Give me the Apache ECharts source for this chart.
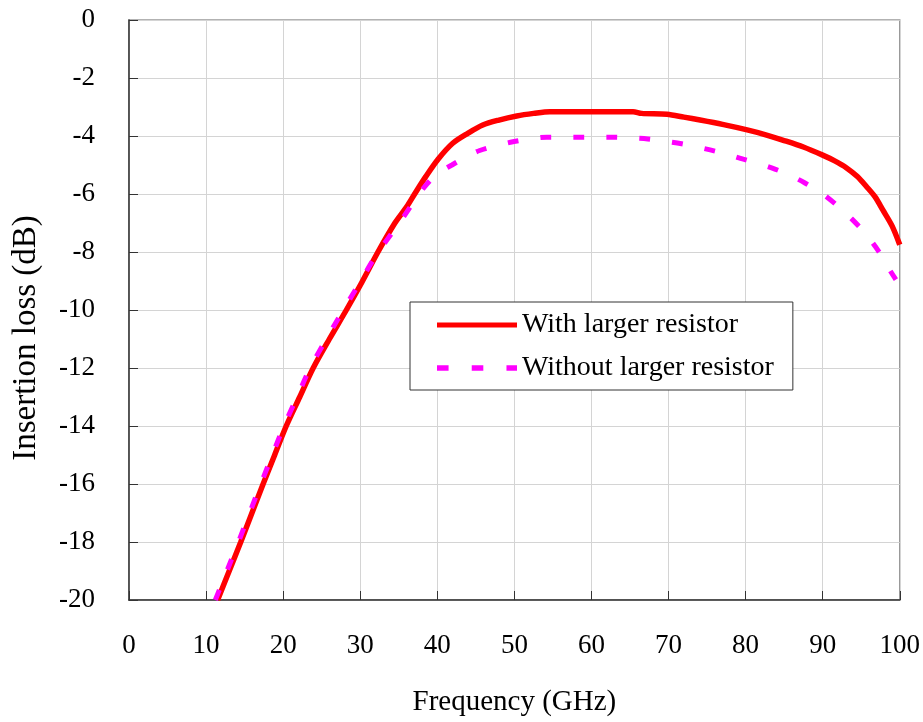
<!DOCTYPE html>
<html>
<head>
<meta charset="utf-8">
<script src="https://cdn.jsdelivr.net/npm/echarts@6/dist/echarts.min.js"></script>
<style>
html, body { margin: 0; padding: 0; background: #fff; }
#il_div { width: 923px; height: 722px; }
</style>
</head>
<body>
<div id="il_div"></div>
<script>
// With larger resistor
var withFreq = [11.5, 13.0, 14.5, 15.95, 17.4, 18.9, 20.4, 22.15, 23.9, 26.0, 28.2, 30.2, 32.3, 34.5, 36.0, 37.1, 38.5, 40.1, 42.0, 44.0, 45.9, 48.0, 50.3, 52.5, 54.6, 60.0, 65.4, 66.5, 69.8, 72.0, 74.1, 77.0, 80.2, 82.5, 84.8, 87.5, 90.0, 91.5, 93.1, 94.5, 95.7, 96.8, 97.8, 99.0, 100.0];
var withLoss = [-20, -19.0, -18.0, -17.0, -16.0, -15.0, -14.0, -13.0, -12.0, -11.0, -10.0, -9.05, -8.0, -7.0, -6.45, -5.98, -5.4, -4.8, -4.25, -3.9, -3.62, -3.45, -3.31, -3.22, -3.16, -3.16, -3.16, -3.22, -3.25, -3.35, -3.45, -3.6, -3.79, -3.95, -4.14, -4.38, -4.66, -4.85, -5.1, -5.4, -5.75, -6.1, -6.55, -7.1, -7.75];

// Without larger resistor
var withoutFreq = [11.2, 12.7, 14.2, 15.65, 17.1, 18.6, 20.1, 21.8, 23.5, 25.6, 27.8, 29.5, 32.1, 35.2, 38.2, 40.0, 41.9, 43.7, 45.5, 47.7, 49.8, 52.0, 54.2, 58.5, 62.8, 65.0, 67.3, 69.5, 71.7, 73.5, 75.4, 77.5, 79.7, 81.8, 83.8, 85.8, 87.7, 89.8, 91.8, 93.7, 95.5, 97.2, 98.7, 99.5];
var withoutLoss = [-20, -19.0, -18.0, -17.0, -16.0, -15.0, -14.0, -13.0, -12.0, -11.0, -10.0, -9.25, -8.1, -6.95, -5.8, -5.3, -5.0, -4.72, -4.5, -4.33, -4.2, -4.1, -4.04, -4.04, -4.04, -4.06, -4.1, -4.18, -4.27, -4.37, -4.48, -4.62, -4.8, -4.96, -5.14, -5.36, -5.62, -5.96, -6.38, -6.84, -7.35, -7.95, -8.62, -8.95];

var seriesNames = ['With larger resistor', 'Without larger resistor'];

function pairs(xs, ys) {
	var out = [];
	for (var i = 0; i < xs.length; i++) {
		out.push([xs[i], ys[i]]);
	}
	return out;
}

var serif = "'Liberation Serif', 'Times New Roman', serif";
var mychart = echarts.init(document.getElementById('il_div'));

var option = {
	animation : false,
	textStyle : { fontFamily : serif },
	grid : {
		left : 129,
		right : 23,
		top : 20,
		bottom : 122,
		show : true,
		borderColor : '#999',
		borderWidth : 1.5
	},
	legend : {
		orient : 'vertical',
		left : 410,
		top : 302,
		padding : [9, 19, 8, 27],
		itemWidth : 80,
		itemHeight : 28,
		itemGap : 15,
		backgroundColor : '#fff',
		borderColor : '#333',
		borderWidth : 1,
		borderRadius : 0,
		textStyle : { fontFamily : serif, fontSize : 28, color : '#000' },
		data : [ {
			name : seriesNames[0],
			icon : 'path://M0,0H80V5H0Z',
			itemStyle : { color : '#ff0000' }
		}, {
			name : seriesNames[1],
			icon : 'path://M2,0H13V5H2Z M35,0H46V5H35Z M68,0H78V5H68Z',
			itemStyle : { color : '#ff00ff' }
		} ]
	},
	xAxis : {
		type : 'value',
		min : 0,
		max : 100,
		interval : 10,
		name : 'Frequency (GHz)',
		nameLocation : 'middle',
		nameGap : 88,
		nameTextStyle : { fontFamily : serif, fontSize : 29, color : '#000' },
		axisLine : { onZero : false, lineStyle : { color : '#333', width : 1.5 } },
		axisTick : { inside : true, length : 9, lineStyle : { color : '#333' } },
		axisLabel : { margin : 32, fontFamily : serif, fontSize : 27, color : '#000' },
		splitLine : { lineStyle : { color : '#d4d4d4', width : 1 } }
	},
	yAxis : {
		type : 'value',
		min : -20,
		max : 0,
		interval : 2,
		name : 'Insertion loss (dB)',
		nameLocation : 'middle',
		nameGap : 86,
		nameTextStyle : { fontFamily : serif, fontSize : 33, color : '#000', padding : [0, 56, 0, 0] },
		axisLine : { onZero : false, lineStyle : { color : '#333', width : 1.5 } },
		axisTick : { inside : true, length : 9, lineStyle : { color : '#333' } },
		axisLabel : { margin : 34, fontFamily : serif, fontSize : 27, color : '#000' },
		splitLine : { lineStyle : { color : '#d4d4d4', width : 1 } }
	},
	series : [ {
		name : seriesNames[0],
		type : 'line',
		symbol : 'none',
		smooth : 0.3,
		data : pairs(withFreq, withLoss),
		lineStyle : { color : '#ff0000', width : 5.5 },
		itemStyle : { color : '#ff0000' },
		z : 3
	}, {
		name : seriesNames[1],
		type : 'line',
		symbol : 'none',
		smooth : 0.3,
		data : pairs(withoutFreq, withoutLoss),
		lineStyle : { color : '#ff00ff', width : 5, type : [11, 22] },
		itemStyle : { color : '#ff00ff' },
		z : 4
	} ]
};
mychart.setOption(option);
</script>
</body>
</html>
